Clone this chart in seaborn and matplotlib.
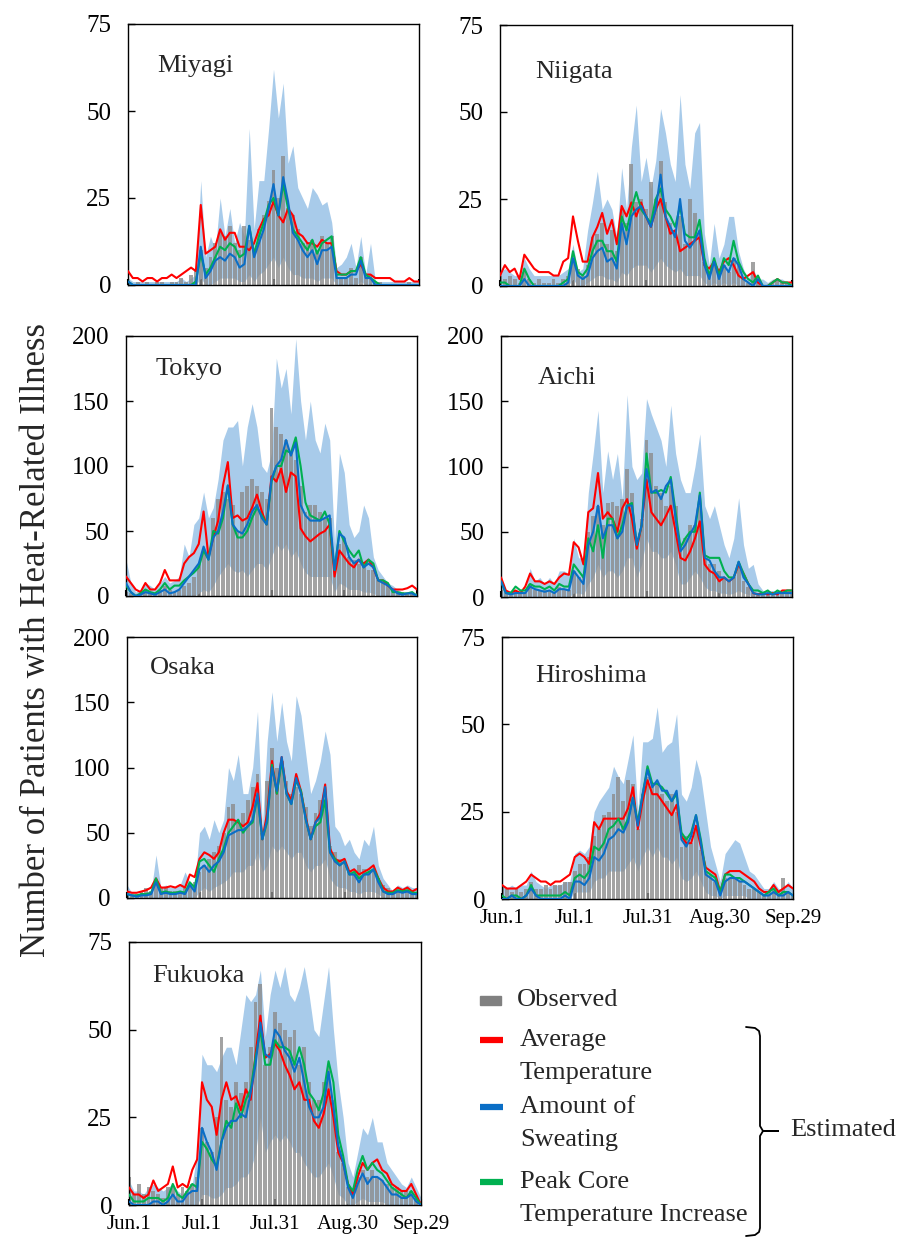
import numpy as np
import pandas as pd
import matplotlib
matplotlib.use("Agg")
import matplotlib.pyplot as plt
from matplotlib.patches import Rectangle
import seaborn as sns

sns.set_theme(style="white")
plt.rcParams["font.family"] = ["Liberation Serif", "DejaVu Serif"]

# ---------------- data (every 2nd day, Jun.1 = day 0 ... Sep.29 = day 120) ----------------
DAYS = list(range(0, 121, 2))
XTICKS = [0, 30, 60, 90, 120]
XTICK_LABELS = ["Jun.1", "Jul.1", "Jul.31", "Aug.30", "Sep.29"]
MODELS = ["Average Temperature", "Peak Core Temperature Increase", "Amount of Sweating"]

MIYAGI_OBS = [1,0,1,0,1,0,1,1,0,1, 1,2,1,3,4,10,5,8,12,15, 14,17,12,10,17,13,10,16,20,24, 33,25,37,22,20,16,12,12,13,10, 14,12,14,3,2,2,5,2,8,3, 3,1,1,0,0,0,0,0,1,0, 0]
MIYAGI_LO = [0,0,0,0,0,0,0,0,0,0, 0,0,0,0,0,2,0,0,1,2, 2,2,2,1,1,3,1,3,4,6, 8,5,8,5,3,3,2,2,2,1, 2,2,2,0,0,0,0,0,1,0, 0,0,0,0,0,0,0,0,0,0, 0]
MIYAGI_HI = [2,1,1,1,1,1,1,1,1,1, 1,2,1,2,3,30,8,14,10,25, 14,22,12,18,14,45,16,30,30,45, 62,48,58,35,40,28,25,22,28,26, 23,24,18,5,6,8,12,5,14,3, 12,1,1,1,1,1,1,1,1,1, 1]
MIYAGI_RED = [4,2,2,1,2,2,1,2,2,3, 2,3,4,5,4,23,9,10,11,16, 13,15,15,11,11,10,12,16,19,20, 24,20,18,22,20,15,14,12,12,11, 13,12,12,4,3,3,4,4,6,3, 3,2,2,2,2,1,1,1,2,1, 1]
MIYAGI_BLUE = [1,0,0,0,0,0,0,0,0,0, 0,0,0,0,0,11,2,4,7,8, 7,9,8,5,6,17,8,12,16,22, 29,20,31,24,15,13,10,8,10,6, 10,10,11,2,2,2,3,3,7,2, 2,0,0,0,0,0,0,0,0,0, 0]
MIYAGI_GREEN = [1,0,0,0,0,0,0,0,0,0, 0,0,0,0,1,9,3,5,8,11, 10,12,11,8,9,17,9,14,18,23, 25,20,29,22,16,14,12,10,13,9, 12,13,14,3,3,3,4,4,8,3, 2,1,0,0,0,0,0,0,0,0, 0]

NIIGATA_OBS = [3,2,3,2,1,4,2,1,2,1, 1,2,1,2,3,8,5,3,6,14, 15,18,12,16,10,22,18,35,24,25, 22,30,25,36,24,18,16,20,12,25, 21,15,7,3,7,3,6,4,8,6, 2,1,7,1,0,0,1,2,1,1, 0]
NIIGATA_LO = [0,0,0,0,0,0,0,0,0,0, 0,0,0,0,0,2,0,0,1,2, 3,3,2,2,1,4,3,5,6,6, 6,4,6,8,6,5,4,5,3,3, 3,3,1,0,1,0,1,0,1,0, 0,0,0,0,0,0,0,0,0,0, 0]
NIIGATA_HI = [4,5,4,3,3,8,5,3,3,3, 3,3,3,4,5,12,4,5,16,24, 33,22,25,22,14,34,22,40,52,30, 37,28,36,51,44,35,30,55,35,28, 44,47,15,6,18,8,12,20,20,10, 5,2,5,2,2,1,2,2,2,1, 1]
NIIGATA_RED = [3,6,4,5,2,9,7,5,4,4, 4,3,3,7,8,20,13,7,7,14, 17,21,15,19,12,23,20,24,20,24, 20,17,22,25,20,15,16,10,11,12, 13,14,6,5,7,4,7,8,6,3, 2,3,4,1,0,0,1,2,1,1, 1]
NIIGATA_BLUE = [0,0,0,0,0,2,0,0,0,0, 0,0,0,0,1,8,3,2,3,8, 10,11,7,8,5,18,12,20,22,23, 20,17,22,32,20,17,14,25,13,11, 13,16,6,2,7,2,6,4,8,6, 2,1,0,2,0,0,0,0,0,0, 0]
NIIGATA_GREEN = [1,1,0,0,0,5,2,0,0,0, 0,0,0,1,2,10,4,3,5,10, 13,13,10,10,7,20,16,22,27,22, 20,18,25,28,22,20,17,23,15,14, 14,19,8,3,8,3,8,6,13,7, 4,2,1,3,0,0,1,2,1,1, 0]

TOKYO_OBS = [3,2,1,2,5,3,2,5,8,5, 3,5,8,10,15,25,35,35,60,75, 80,75,70,50,80,85,90,85,80,75, 145,130,125,120,110,105,85,65,70,70, 65,60,60,20,40,45,30,28,25,25, 20,20,12,10,8,5,3,3,2,2, 1]
TOKYO_LO = [0,0,0,0,0,0,0,0,0,0, 0,0,0,0,0,2,5,3,8,15, 20,25,20,18,20,15,20,25,25,20, 30,40,35,40,30,35,25,18,15,15, 15,15,15,3,10,8,5,5,5,3, 3,2,0,0,0,0,0,0,0,0, 0]
TOKYO_HI = [28,10,3,5,10,8,5,10,15,10, 12,15,40,30,55,60,80,60,68,90, 120,130,130,135,100,130,148,130,100,95, 110,183,160,175,140,198,150,120,150,120, 110,133,120,40,110,95,55,45,50,70, 60,30,20,15,10,8,5,3,3,3, 2]
TOKYO_RED = [15,10,5,3,10,5,5,10,20,12, 12,12,25,30,33,40,65,30,45,58, 85,103,60,62,58,60,68,78,65,55, 92,88,98,80,95,92,52,46,42,45, 48,50,55,15,35,30,25,22,28,25, 28,22,12,12,8,5,5,5,6,8, 5]
TOKYO_BLUE = [10,3,0,1,3,2,1,3,5,2, 3,5,10,15,20,25,38,28,45,50, 65,85,55,50,48,55,65,70,60,55, 90,100,105,120,108,118,70,62,58,58, 58,60,62,20,48,45,30,25,28,22, 25,22,12,10,8,5,2,1,2,2, 0]
TOKYO_GREEN = [8,3,0,2,5,3,2,5,10,5, 8,8,12,15,18,22,35,28,50,48, 60,85,55,45,45,50,60,68,62,55, 88,100,100,112,110,122,100,72,62,60, 58,65,55,20,50,42,35,30,35,22, 28,25,12,12,10,3,3,2,2,3, 0]

AICHI_OBS = [5,3,2,5,3,3,10,5,5,5, 5,3,8,5,5,20,15,15,50,62, 70,55,72,73,70,75,98,80,45,60, 120,110,85,80,70,85,70,40,45,55, 55,70,30,25,25,20,15,12,15,25, 12,8,3,3,2,3,2,3,3,3, 3]
AICHI_LO = [0,0,0,0,0,0,0,0,0,0, 0,0,0,0,0,3,3,2,10,15, 25,15,20,20,15,20,30,30,15,25, 45,35,35,30,30,35,25,10,10,15, 20,15,8,5,5,3,3,2,3,5, 3,2,0,0,0,0,0,0,0,0, 0]
AICHI_HI = [15,5,5,5,5,5,22,12,15,10, 15,10,20,20,18,45,30,30,80,110, 143,80,112,90,110,75,155,100,90,95, 152,140,130,120,100,147,110,90,80,80, 100,125,70,60,70,55,40,30,45,76, 40,22,25,10,5,5,5,5,5,5, 5]
AICHI_RED = [15,5,3,5,3,8,18,12,12,10, 12,10,15,18,17,42,38,25,65,68, 95,60,65,60,50,68,75,60,37,55, 90,65,60,55,62,70,50,30,28,35, 45,58,25,20,18,12,15,12,15,25, 18,10,3,2,3,2,3,2,5,5, 5]
AICHI_BLUE = [12,3,2,3,3,3,8,6,5,4, 5,3,6,6,5,20,15,10,40,50, 70,45,55,55,45,50,70,70,40,55, 98,80,82,75,85,90,60,35,40,48, 55,78,30,28,20,15,15,12,15,27, 15,10,3,2,2,3,2,3,3,3, 3]
AICHI_GREEN = [12,3,3,8,5,5,10,8,8,6, 8,5,10,8,8,25,20,15,45,35, 55,30,60,60,45,55,70,72,40,55, 110,80,80,82,80,92,65,38,45,50, 50,80,32,30,30,30,20,15,15,27, 18,10,5,5,3,5,2,5,3,5, 5]

OSAKA_OBS = [3,2,3,5,8,5,10,8,8,5, 5,5,8,10,12,20,25,30,35,40, 50,70,72,60,65,75,85,95,50,90, 115,100,105,90,80,85,80,70,55,65, 75,80,40,35,30,30,20,20,25,22, 20,22,15,10,8,5,6,5,5,4, 3]
OSAKA_LO = [0,0,0,0,0,0,0,0,0,0, 0,0,0,0,0,5,8,5,8,10, 12,15,20,20,20,25,25,35,20,25, 40,35,40,35,30,35,35,25,20,25, 25,30,15,10,8,8,5,5,3,5, 5,5,3,0,0,0,0,0,0,0, 0]
OSAKA_HI = [10,4,3,4,5,5,33,8,10,8, 8,10,20,12,10,50,55,45,60,50, 60,100,90,110,80,80,100,143,55,120, 158,120,150,120,105,155,140,110,80,90, 105,128,110,55,50,40,45,35,30,45, 40,55,25,15,10,5,10,8,10,8, 8]
OSAKA_RED = [5,4,4,5,6,8,15,8,8,9, 8,10,8,18,16,30,35,33,30,35, 50,60,60,58,55,58,70,88,45,65, 105,80,108,82,75,95,82,62,45,58, 65,87,38,30,28,30,20,22,18,20, 22,25,15,8,5,5,8,6,8,5, 7]
OSAKA_BLUE = [3,2,1,2,2,3,12,3,4,3, 3,4,3,10,5,22,25,20,25,28, 35,48,50,52,52,55,60,80,45,60, 100,82,108,80,72,92,80,60,45,58, 62,85,35,28,25,28,18,18,12,18, 18,22,12,5,3,3,5,4,5,3, 3]
OSAKA_GREEN = [3,2,2,3,3,4,15,4,5,4, 4,5,4,12,8,28,30,25,20,30, 38,50,55,60,50,55,58,78,45,58, 102,80,105,80,72,90,82,60,45,55, 58,75,35,30,25,28,18,20,15,18, 20,22,15,5,4,4,6,5,6,4, 4]

HIROSHIMA_OBS = [4,3,2,3,2,3,5,3,3,4, 3,4,4,5,5,8,10,10,12,18, 20,24,25,30,35,28,34,33,20,30, 35,32,33,30,28,30,25,15,18,16, 20,14,8,7,5,3,6,6,6,5, 4,3,3,2,1,2,3,2,6,2, 1]
HIROSHIMA_LO = [0,0,0,0,0,0,0,0,0,0, 0,0,0,0,0,2,2,2,2,5, 6,6,8,8,8,8,10,12,8,12, 15,12,15,12,12,10,12,6,5,6, 8,5,2,1,1,0,1,1,1,1, 1,0,0,0,0,0,0,0,0,0, 0]
HIROSHIMA_HI = [4,3,4,3,4,4,8,5,4,3, 4,4,4,5,5,13,14,13,15,25, 28,30,32,38,35,33,40,47,25,45, 45,46,55,42,44,45,53,30,28,32, 40,35,25,15,10,5,13,15,17,16, 12,8,7,5,3,3,5,3,3,5, 3]
HIROSHIMA_RED = [4,3,3,3,4,5,7,6,5,5, 4,5,5,6,7,12,13,12,10,22, 20,23,23,23,23,23,26,32,20,28, 34,30,30,28,26,24,27,18,16,16, 21,15,9,8,7,2,7,8,8,8, 7,6,5,3,2,2,4,2,3,4, 3]
HIROSHIMA_BLUE = [0,0,1,0,0,1,3,1,0,0, 0,0,0,1,0,5,5,4,6,12, 11,13,17,18,20,19,22,29,21,30, 37,32,34,31,31,28,31,17,15,18, 24,16,7,6,5,1,5,6,6,5, 5,4,3,2,1,1,2,1,1,2, 1]
HIROSHIMA_GREEN = [1,0,1,1,0,1,4,1,1,1, 1,1,1,2,1,6,7,6,8,15, 14,16,20,21,23,20,23,29,22,30, 38,33,33,32,30,28,30,19,17,19, 24,17,8,7,6,2,7,7,6,6, 5,4,3,2,1,2,3,1,2,2, 1]

FUKUOKA_OBS = [8,3,6,3,5,4,3,2,5,5, 3,5,4,6,8,22,18,15,25,48, 30,28,35,32,35,45,58,63,40,45, 55,52,50,48,50,40,45,35,30,30, 35,40,30,15,12,5,3,8,10,8, 10,8,7,6,5,5,4,4,4,2, 1]
FUKUOKA_LO = [0,0,0,0,0,0,0,0,0,0, 0,0,0,0,0,3,3,2,2,3, 5,5,6,8,8,10,15,25,15,18, 20,18,20,18,15,15,12,10,8,8, 10,12,8,3,2,0,0,1,2,1, 1,1,1,0,0,0,0,0,0,0, 0]
FUKUOKA_HI = [7,4,4,3,5,6,5,4,5,6, 4,3,5,6,15,43,40,40,38,42, 45,45,40,50,60,58,60,67,48,60, 67,62,68,60,58,62,68,60,50,48, 58,68,50,35,25,12,8,15,22,20, 25,18,18,12,10,8,6,5,8,5, 2]
FUKUOKA_RED = [5,3,3,2,3,7,4,5,6,11, 5,6,5,10,13,35,30,28,20,30, 35,30,31,27,33,30,43,54,42,43, 46,44,40,37,33,35,30,30,24,22, 26,33,25,15,12,6,3,8,12,10, 12,13,10,9,6,5,4,4,6,3, 0]
FUKUOKA_BLUE = [1,0,0,0,0,1,1,0,1,3, 1,1,3,4,4,22,18,15,10,18, 22,24,24,26,25,32,40,52,43,42, 50,48,44,42,38,42,35,28,25,25, 28,38,28,17,12,5,2,6,9,6, 8,8,7,5,3,3,2,2,3,1, 0]
FUKUOKA_GREEN = [3,1,1,1,2,2,2,1,2,6, 3,2,4,6,5,18,16,13,11,18, 24,22,29,25,30,33,42,50,40,40, 47,45,45,44,40,45,40,32,30,27, 32,41,35,20,14,6,4,10,14,10, 12,10,9,7,5,4,3,2,4,2, 0]

# ---------------- layout ----------------
W, H = 897, 1249
fig = plt.figure(figsize=(W / 100, H / 100), dpi=100)
fig.patch.set_facecolor("white")


def rect(l, r, t, b):
    return [l / W, 1 - b / H, (r - l) / W, (b - t) / H]


PANELS = [
    ("Miyagi", (128, 419, 24, 285), 75, MIYAGI_OBS, MIYAGI_LO, MIYAGI_HI, MIYAGI_RED, MIYAGI_BLUE, MIYAGI_GREEN, False, (0.10, 0.84)),
    ("Niigata", (500, 792, 25, 286), 75, NIIGATA_OBS, NIIGATA_LO, NIIGATA_HI, NIIGATA_RED, NIIGATA_BLUE, NIIGATA_GREEN, False, (0.12, 0.82)),
    ("Tokyo", (126, 417, 336, 596), 200, TOKYO_OBS, TOKYO_LO, TOKYO_HI, TOKYO_RED, TOKYO_BLUE, TOKYO_GREEN, False, (0.10, 0.875)),
    ("Aichi", (501, 792, 336, 597), 200, AICHI_OBS, AICHI_LO, AICHI_HI, AICHI_RED, AICHI_BLUE, AICHI_GREEN, False, (0.125, 0.84)),
    ("Osaka", (127, 417, 637, 898), 200, OSAKA_OBS, OSAKA_LO, OSAKA_HI, OSAKA_RED, OSAKA_BLUE, OSAKA_GREEN, False, (0.08, 0.88)),
    ("Hiroshima", (502, 793, 637, 899), 75, HIROSHIMA_OBS, HIROSHIMA_LO, HIROSHIMA_HI, HIROSHIMA_RED, HIROSHIMA_BLUE, HIROSHIMA_GREEN, True, (0.115, 0.85)),
    ("Fukuoka", (129, 421, 942, 1205), 75, FUKUOKA_OBS, FUKUOKA_LO, FUKUOKA_HI, FUKUOKA_RED, FUKUOKA_BLUE, FUKUOKA_GREEN, True, (0.08, 0.87)),
]

PALETTE = {"Average Temperature": "#ff0000",
           "Amount of Sweating": "#0a6ec6",
           "Peak Core Temperature Increase": "#00b050"}
BAND = "#a8cbea"
BAR = "#8c8c8c"

for name, box, ymax, obs, lo, hi, red, blue, green, show_x, lab in PANELS:
    ax = fig.add_axes(rect(*box))
    ax.fill_between(DAYS, lo, hi, color=BAND, linewidth=0, zorder=1)
    ax.bar(DAYS, obs, width=1.6, color=BAR, alpha=0.8, linewidth=0, zorder=2)
    df = pd.DataFrame({"day": DAYS * 3,
                       "value": red + green + blue,
                       "model": [MODELS[0]] * len(DAYS) + [MODELS[1]] * len(DAYS) + [MODELS[2]] * len(DAYS)})
    sns.lineplot(data=df, x="day", y="value", hue="model", hue_order=MODELS,
                 palette=PALETTE, ax=ax, legend=False, linewidth=1.5, zorder=3)
    ax.set_xlim(0, 120)
    ax.set_ylim(0, ymax)
    ax.set_yticks([0, 25, 50, 75] if ymax == 75 else [0, 50, 100, 150, 200])
    ax.set_xticks(XTICKS)
    if show_x:
        ax.set_xticklabels(XTICK_LABELS, fontsize=15)
    else:
        ax.set_xticklabels([])
    ax.set_xlabel("")
    ax.set_ylabel("")
    ax.tick_params(axis="y", direction="in", length=5, width=1, left=True, labelsize=18, pad=12, colors="black")
    ax.tick_params(axis="x", direction="in", length=4, width=1.5, bottom=True, pad=7, colors="black")
    for s in ax.spines.values():
        s.set_color("black")
        s.set_linewidth(1.0)
    ax.text(lab[0], lab[1], name, transform=ax.transAxes, fontsize=19, ha="left", va="center")

fig.text(37 / W, 1 - 640 / H, "Number of Patients with Heat-Related Illness",
         rotation=90, fontsize=25, ha="center", va="center")

# ---------------- legend ----------------
lg = fig.add_axes([0, 0, 1, 1])
lg.set_xlim(0, W)
lg.set_ylim(H, 0)
lg.axis("off")
lg.add_patch(Rectangle((480, 996), 21, 9, color="#808080"))
lg.plot([480, 503], [1040, 1040], color=PALETTE["Average Temperature"], lw=4.5, solid_capstyle="butt")
lg.plot([480, 503], [1107, 1107], color=PALETTE["Amount of Sweating"], lw=4.5, solid_capstyle="butt")
lg.plot([480, 503], [1182, 1182], color=PALETTE["Peak Core Temperature Increase"], lw=4.5, solid_capstyle="butt")
LEG_FS = 19
lg.text(517, 1000, "Observed", fontsize=LEG_FS, va="center", ha="left")
lg.text(520, 1040, "Average", fontsize=LEG_FS, va="center", ha="left")
lg.text(520, 1073, "Temperature", fontsize=LEG_FS, va="center", ha="left")
lg.text(520, 1107, "Amount of", fontsize=LEG_FS, va="center", ha="left")
lg.text(520, 1140, "Sweating", fontsize=LEG_FS, va="center", ha="left")
lg.text(520, 1182, "Peak Core", fontsize=LEG_FS, va="center", ha="left")
lg.text(520, 1215, "Temperature Increase", fontsize=LEG_FS, va="center", ha="left")
bx = [746, 755, 759, 760, 760, 763, 778, 763, 760, 760, 759, 755, 746]
by = [1027, 1028, 1031, 1036, 1126, 1131, 1131, 1131, 1136, 1228, 1232, 1235, 1236]
lg.plot(bx, by, color="black", lw=1.3)
lg.text(790, 1130, "Estimated", fontsize=LEG_FS, va="center", ha="left")

fig.savefig("out.png", dpi=100, facecolor="white")
